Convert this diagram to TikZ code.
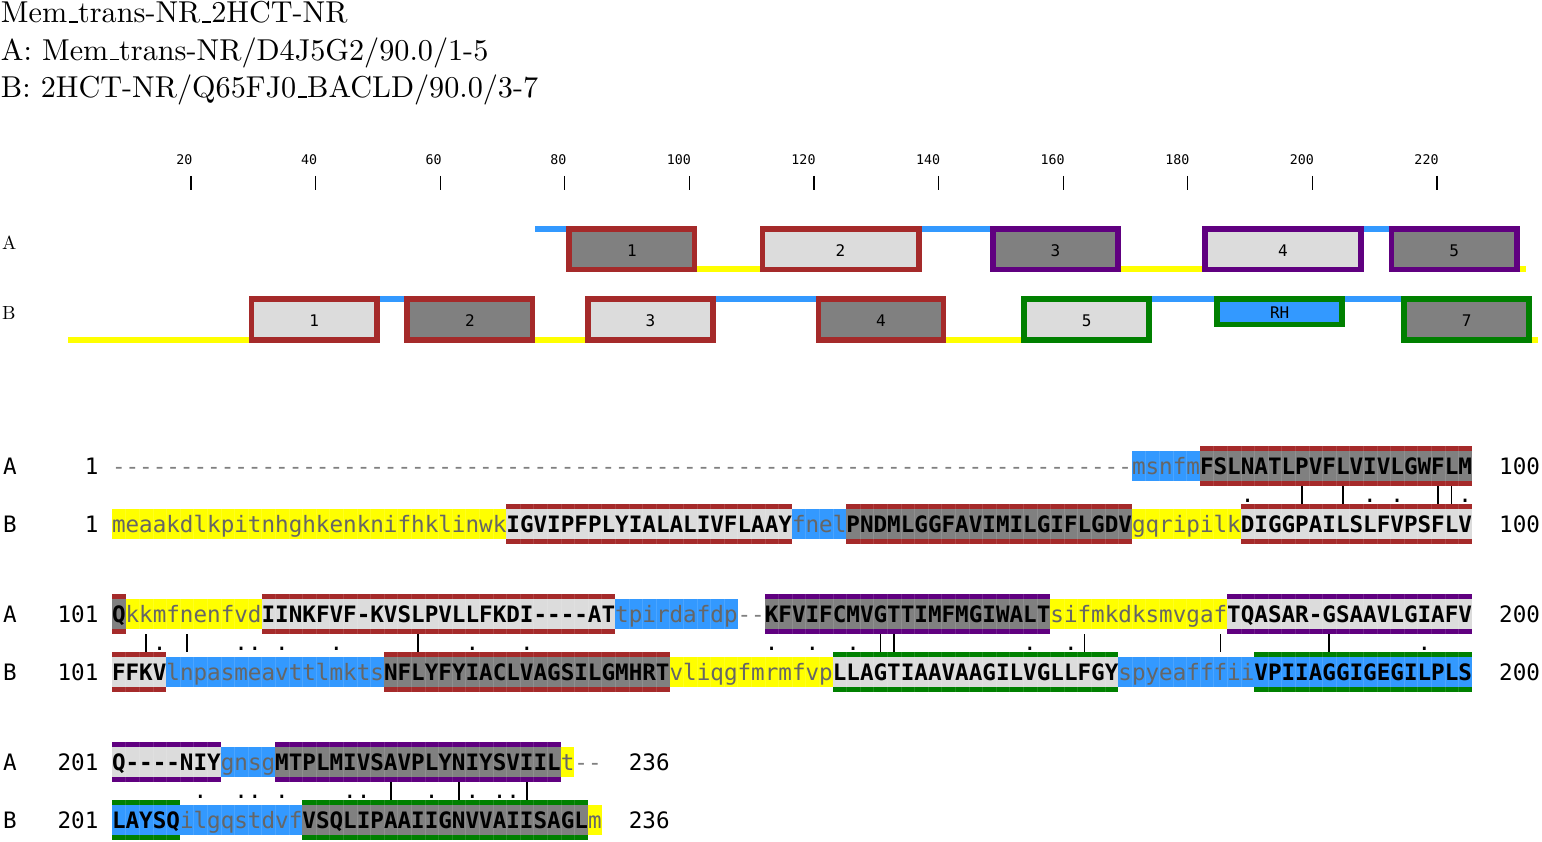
\documentclass[tikz,border=0pt]{standalone}
\usepackage{fontspec}
\newfontfamily\mono{DejaVu Sans Mono}
\newfontfamily\cmten{lmroman10-regular.otf}
\ExplSyntaxOn
\cs_new:Npn \mydashes #1 {\prg_replicate:nn{#1}{-\kern0pt}}
\ExplSyntaxOff
\definecolor{hy}{HTML}{FFFF00}
\definecolor{hb}{HTML}{3399FF}
\definecolor{dk}{HTML}{808080}
\definecolor{lt}{HTML}{DCDCDC}
\definecolor{sr}{HTML}{A52A2A}
\definecolor{sp}{HTML}{600080}
\definecolor{sg}{HTML}{008000}
\definecolor{lc}{HTML}{666666}
\definecolor{gc}{HTML}{808080}
\newcommand\UP[1]{{\bfseries\color{black}#1}}
\newcommand\LW[1]{{\color{lc}#1}}
\newcommand\GP[1]{{\color{gc}#1}}
\newcommand\us{\leavevmode\kern.06em\vbox{\hrule width.3em height 1.5pt}}
\newcommand\sqfont{\mono\fontsize{22.59}{24}\selectfont}
\tikzset{
  seq/.style={anchor=base west, inner sep=0pt, outer sep=0pt, font=\sqfont},
  rnum/.style={anchor=base east, inner sep=0pt, outer sep=0pt, font=\sqfont},
  mk/.style={anchor=base, inner sep=0pt, outer sep=0pt, font=\sqfont},
  bar/.style={line width=1.5pt, black},
  ttl/.style={anchor=base west, inner sep=0pt, outer sep=0pt, font=\cmten\fontsize{30.2}{36}\selectfont},
  rl/.style={anchor=base east, inner sep=0pt, outer sep=0pt, font=\mono\fontsize{13.3}{15}\selectfont},
  tickmark/.style={line width=1.2pt, black},
  olab/.style={anchor=base west, inner sep=0pt, outer sep=0pt, font=\cmten\fontsize{19}{21}\selectfont},
  obx/.style={rectangle, line width=5.7pt, inner sep=0pt, outer sep=0pt},
  oblab/.style={inner sep=0pt, outer sep=0pt, font=\mono\fontsize{16}{18}\selectfont},
  seam/.style={white, opacity=0.12, line width=0.6pt},
}
\newcommand\cbg[4]{\fill[#4] ({112+13.6*(#2-1)},{#1-15}) rectangle ({112+13.6*#3},{#1+15});
  \ifnum#3>#2\relax\foreach \c in {#2,...,\numexpr#3-1\relax}{\draw[seam] ({112+13.6*\c},{#1-15}) -- ({112+13.6*\c},{#1+15});}\fi}
\newcommand\cst[4]{\fill[#4] ({112+13.6*(#2-1)},{#1-20}) rectangle ({112+13.6*#3},{#1-15});
  \fill[#4] ({112+13.6*(#2-1)},{#1+15}) rectangle ({112+13.6*#3},{#1+20});
  \ifnum#3>#2\relax\foreach \c in {#2,...,\numexpr#3-1\relax}{\draw[seam] ({112+13.6*\c},{#1-20}) -- ({112+13.6*\c},{#1-15}) ({112+13.6*\c},{#1+15}) -- ({112+13.6*\c},{#1+20});}\fi}
\newcommand\oline[5]{\fill[#5] ({68+6.23*(#3-1)},#1) rectangle ({68+6.23*#4},#2);}
\newcommand\obox[8]{\node[obx, draw=#6, fill=#7, minimum width={6.23*(#5-#4+1)-5.7}, minimum height={#3-#2-5.7}] (#1) at ({68+6.23*(#4-1+#5)/2},{(#2+#3)/2}) {};
  \node[oblab] (#1t) at ([yshift=-1.5pt]#1.center) {#8};}
\newcounter{mkc}
\newcommand\dotm[2]{\stepcounter{mkc}\node[mk] (m\arabic{mkc}) at ({112+13.6*(#2-0.5)},#1) {.};}
\begin{document}
\begin{tikzpicture}[x=1pt,y=-1pt]
\useasboundingbox (0,0) rectangle (1542,842);
% title
\node[ttl] (t1) at (1,23) {Mem\us trans-NR\us 2HCT-NR};
\node[ttl] (t2) at (1,60.5) {A: Mem\us trans-NR/D4J5G2/90.0/1-5};
\node[ttl] (t3) at (1,98) {B: 2HCT-NR/Q65FJ0\us BACLD/90.0/3-7};
% ruler
\foreach \n [count=\j from 0] in {20,40,...,220}{
  \draw[tickmark] ({191+124.6*\j},176) -- ({191+124.6*\j},190);
  \node[rl] (r\n) at ({192.5+124.6*\j},165) {\n};
}
% overview labels
\node[olab] (oA) at (2,249.5) {A};
\node[olab] (oB) at (2,319.5) {B};
% overview row A lines
\oline{226}{232}{76}{80}{hb}
\oline{266.5}{272.5}{102}{111}{hy}
\oline{226}{232}{138}{148}{hb}
\oline{266.5}{272.5}{170}{182}{hy}
\oline{226}{232}{209}{212}{hb}
\oline{266.5}{272.5}{234}{234}{hy}
% overview row B lines
\oline{336.7}{342.7}{1}{29}{hy}
\oline{296}{302}{51}{54}{hb}
\oline{336.7}{342.7}{76}{83}{hy}
\oline{296}{302}{105}{120}{hb}
\oline{336.7}{342.7}{142}{153}{hy}
\oline{296}{302}{175}{184}{hb}
\oline{296}{302}{206}{214}{hb}
\oline{336.7}{342.7}{236}{236}{hy}
% overview boxes A
\obox{a1}{226}{272.5}{81}{101}{sr}{dk}{1}
\obox{a2}{226}{272.5}{112}{137}{sr}{lt}{2}
\obox{a3}{226}{272.5}{149}{169}{sp}{dk}{3}
\obox{a4}{226}{272.5}{183}{208}{sp}{lt}{4}
\obox{a5}{226}{272.5}{213}{233}{sp}{dk}{5}
% overview boxes B
\obox{b1}{296}{342.7}{30}{50}{sr}{lt}{1}
\obox{b2}{296}{342.7}{55}{75}{sr}{dk}{2}
\obox{b3}{296}{342.7}{84}{104}{sr}{lt}{3}
\obox{b4}{296}{342.7}{121}{141}{sr}{dk}{4}
\obox{b5}{296}{342.7}{154}{174}{sg}{lt}{5}
\obox{b6}{296}{327.3}{185}{205}{sg}{hb}{RH}
\obox{b7}{296}{342.7}{215}{235}{sg}{dk}{7}
% ===== match marks (drawn first) =====
\foreach \k in {88,91,98,99}{\draw[bar] ({112+13.6*(\k-0.5)},486) -- ({112+13.6*(\k-0.5)},504.3);}
\foreach \k in {84,93,95,100}{\dotm{502.5}{\k}}
\foreach \k in {3,6,23,57,58,72,82,90}{\draw[bar] ({112+13.6*(\k-0.5)},634) -- ({112+13.6*(\k-0.5)},652.3);}
\foreach \k in {4,10,11,13,17,27,31,49,52,55,68,71,97}{\dotm{650.5}{\k}}
\foreach \k in {21,26,31}{\draw[bar] ({112+13.6*(\k-0.5)},782) -- ({112+13.6*(\k-0.5)},800.3);}
\foreach \k in {7,10,11,13,18,19,24,27,29,30}{\dotm{798.5}{\k}}
% ===== block 1 =====
\cbg{466}{76}{80}{hb}
\cbg{466}{81}{100}{dk}\cst{466}{81}{100}{sr}
\cbg{524.3}{1}{29}{hy}
\cbg{524.3}{30}{50}{lt}\cst{524.3}{30}{50}{sr}
\cbg{524.3}{51}{54}{hb}
\cbg{524.3}{55}{75}{dk}\cst{524.3}{55}{75}{sr}
\cbg{524.3}{76}{83}{hy}
\cbg{524.3}{84}{100}{lt}\cst{524.3}{84}{100}{sr}
\node[seq] (lA1) at (3.2,474.5) {A};
\node[rnum] (nA1) at (98.4,474.5) {1};
\node[seq] (sA1) at (112,474.5) {\GP{\mydashes{75}}\LW{msnfm}\UP{FSLNATLPVFLVIVLGWFLM}};
\node[seq] (eA1) at (1499.2,474.5) {100};
\node[seq] (lB1) at (3.2,532.8) {B};
\node[rnum] (nB1) at (98.4,532.8) {1};
\node[seq] (sB1) at (112,532.8) {\LW{meaakdlkpitnhghkenknifhklinwk}\UP{IGVIPFPLYIALALIVFLAAY}\LW{fnel}\UP{PNDMLGGFAVIMILGIFLGDV}\LW{gqripilk}\UP{DIGGPAILSLFVPSFLV}};
\node[seq] (eB1) at (1499.2,532.8) {100};
% ===== block 2 =====
\cbg{614}{1}{1}{dk}\cst{614}{1}{1}{sr}
\cbg{614}{2}{11}{hy}
\cbg{614}{12}{37}{lt}\cst{614}{12}{37}{sr}
\cbg{614}{38}{46}{hb}
\cbg{614}{49}{69}{dk}\cst{614}{49}{69}{sp}
\cbg{614}{70}{82}{hy}
\cbg{614}{83}{100}{lt}\cst{614}{83}{100}{sp}
\cbg{672.3}{1}{4}{lt}\cst{672.3}{1}{4}{sr}
\cbg{672.3}{5}{20}{hb}
\cbg{672.3}{21}{41}{dk}\cst{672.3}{21}{41}{sr}
\cbg{672.3}{42}{53}{hy}
\cbg{672.3}{54}{74}{lt}\cst{672.3}{54}{74}{sg}
\cbg{672.3}{75}{84}{hb}
\cbg{672.3}{85}{100}{hb}\cst{672.3}{85}{100}{sg}
\node[seq] (lA2) at (3.2,622.5) {A};
\node[rnum] (nA2) at (98.4,622.5) {101};
\node[seq] (sA2) at (112,622.5) {\UP{Q}\LW{kkmfnenfvd}\UP{IINKFVF-KVSLPVLLFKDI\mydashes{4}AT}\LW{tpirdafdp}\GP{\mydashes{2}}\UP{KFVIFCMVGTTIMFMGIWALT}\LW{sifmkdksmvgaf}\UP{TQASAR-GSAAVLGIAFV}};
\node[seq] (eA2) at (1499.2,622.5) {200};
\node[seq] (lB2) at (3.2,680.8) {B};
\node[rnum] (nB2) at (98.4,680.8) {101};
\node[seq] (sB2) at (112,680.8) {\UP{FFKV}\LW{lnpasmeavttlmkts}\UP{NFLYFYIACLVAGSILGMHRT}\LW{vliqgfmrmfvp}\UP{LLAGTIAAVAAGILVGLLFGY}\LW{spyeafffii}\UP{VPIIAGGIGEGILPLS}};
\node[seq] (eB2) at (1499.2,680.8) {200};
% ===== block 3 =====
\cbg{762}{1}{8}{lt}\cst{762}{1}{8}{sp}
\cbg{762}{9}{12}{hb}
\cbg{762}{13}{33}{dk}\cst{762}{13}{33}{sp}
\cbg{762}{34}{34}{hy}
\cbg{820.3}{1}{5}{hb}\cst{820.3}{1}{5}{sg}
\cbg{820.3}{6}{14}{hb}
\cbg{820.3}{15}{35}{dk}\cst{820.3}{15}{35}{sg}
\cbg{820.3}{36}{36}{hy}
\node[seq] (lA3) at (3.2,770.5) {A};
\node[rnum] (nA3) at (98.4,770.5) {201};
\node[seq] (sA3) at (112,770.5) {\UP{Q\mydashes{4}NIY}\LW{gnsg}\UP{MTPLMIVSAVPLYNIYSVIIL}\LW{t}\GP{\mydashes{2}}};
\node[seq] (eA3) at (628.8,770.5) {236};
\node[seq] (lB3) at (3.2,828.8) {B};
\node[rnum] (nB3) at (98.4,828.8) {201};
\node[seq] (sB3) at (112,828.8) {\UP{LAYSQ}\LW{ilgqstdvf}\UP{VSQLIPAAIIGNVVAIISAGL}\LW{m}};
\node[seq] (eB3) at (628.8,828.8) {236};
\end{tikzpicture}
\end{document}
